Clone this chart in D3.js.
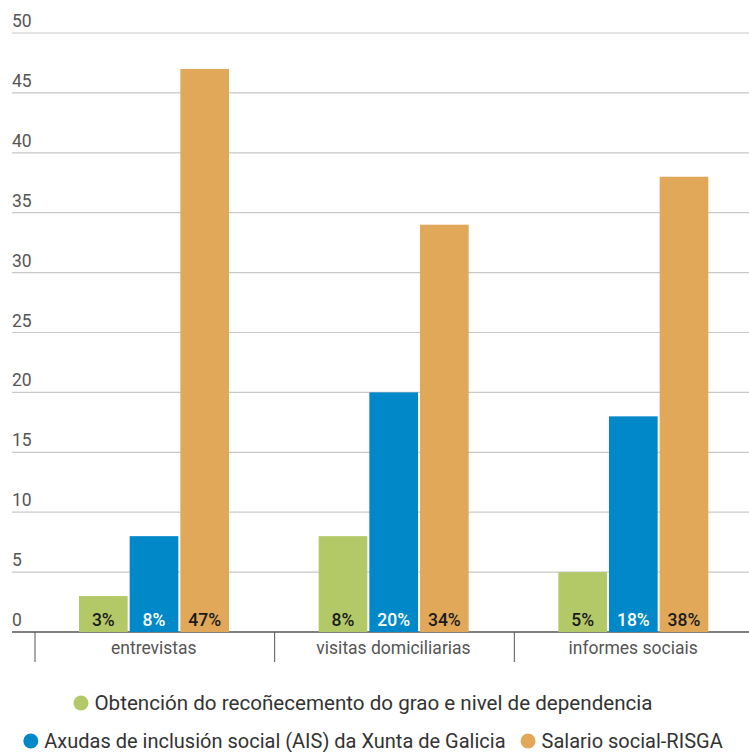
<!DOCTYPE html>
<html><head><meta charset="utf-8">
<script src="https://cdn.jsdelivr.net/npm/d3@7"></script>
<style>body{margin:0;background:#fff;font-family:Roboto,"Noto Sans",sans-serif;}</style>
</head><body><svg id="c" width="749" height="752"></svg>
<script>
const categories = ["entrevistas", "visitas domiciliarias", "informes sociais"];
const seriesNames = ["Obtención do recoñecemento do grao e nivel de dependencia", "Axudas de inclusión social (AIS) da Xunta de Galicia", "Salario social-RISGA"];
const greenValues = [3, 8, 5];
const blueValues = [8, 20, 18];
const orangeValues = [47, 34, 38];
const yTicks = [0, 5, 10, 15, 20, 25, 30, 35, 40, 45, 50];
const colors = ["#b3c968", "#0088c9", "#e1a85a"];
const labelColors = ["#1a1a1a", "#fff", "#1a1a1a"];
const series = [greenValues, blueValues, orangeValues];

const svg = d3.select("#c");
const y = d3.scaleLinear().domain([0, 50]).range([632, 33]);
const x0 = d3.scaleBand().domain(categories).range([35, 754]).paddingInner(0).paddingOuter(0);
const x1 = d3.scaleBand().domain(d3.range(3)).range([44, 194]).paddingInner(0.04);

// gridlines & y labels
const g = svg.append("g");
yTicks.forEach(t => {
  g.append("line").attr("x1", 12).attr("x2", 749).attr("y1", y(t)).attr("y2", y(t))
    .attr("stroke", t === 0 ? "#555" : "#c8c8c8").attr("stroke-width", t === 0 ? 1.5 : 1.2);
  g.append("text").attr("x", 12).attr("y", y(t) - 6).text(t)
    .attr("font-size", 17.5).attr("fill", "#555");
});

// bars
categories.forEach((c, ci) => {
  const gx = x0(c);
  series.forEach((s, si) => {
    const v = s[ci];
    svg.append("rect").attr("x", gx + x1(si)).attr("width", x1.bandwidth())
      .attr("y", y(v)).attr("height", y(0) - y(v)).attr("fill", colors[si]);
    svg.append("text").attr("x", gx + x1(si) + x1.bandwidth() / 2).attr("y", y(0) - 6)
      .attr("text-anchor", "middle").attr("font-size", 17.5).attr("font-weight", 500)
      .attr("fill", labelColors[si]).text(v + "%");
  });
});

// category axis
categories.forEach(c => {
  svg.append("line").attr("x1", x0(c)).attr("x2", x0(c)).attr("y1", y(0)).attr("y2", 662)
    .attr("stroke", "#555").attr("stroke-width", 1);
  svg.append("text").attr("x", x0(c) + x0.bandwidth() / 2 - 1).attr("y", 654)
    .attr("text-anchor", "middle").attr("font-size", 17.5).attr("fill", "#555").text(c);
});

// legend
const rows = [[0], [1, 2]];
const rowY = [703, 741];
const rowCenter = [363, 373];
const rowFs = [20.6, 20];
const r = 7.5, gapCT = 6, gapItems = 15;
rows.forEach((row, ri) => {
  const grp = svg.append("g");
  let xpos = 0;
  row.forEach((i, k) => {
    if (k > 0) xpos += gapItems;
    grp.append("circle").attr("cx", xpos + r).attr("cy", rowY[ri]).attr("r", r).attr("fill", colors[i]);
    xpos += 2 * r + gapCT;
    const t = grp.append("text").attr("x", xpos).attr("y", rowY[ri] + 6.5).attr("font-size", rowFs[ri])
      .attr("fill", "#333").text(seriesNames[i]);
    xpos += t.node().getComputedTextLength();
  });
  grp.attr("transform", `translate(${rowCenter[ri] - xpos / 2},0)`);
});
</script></body></html>
